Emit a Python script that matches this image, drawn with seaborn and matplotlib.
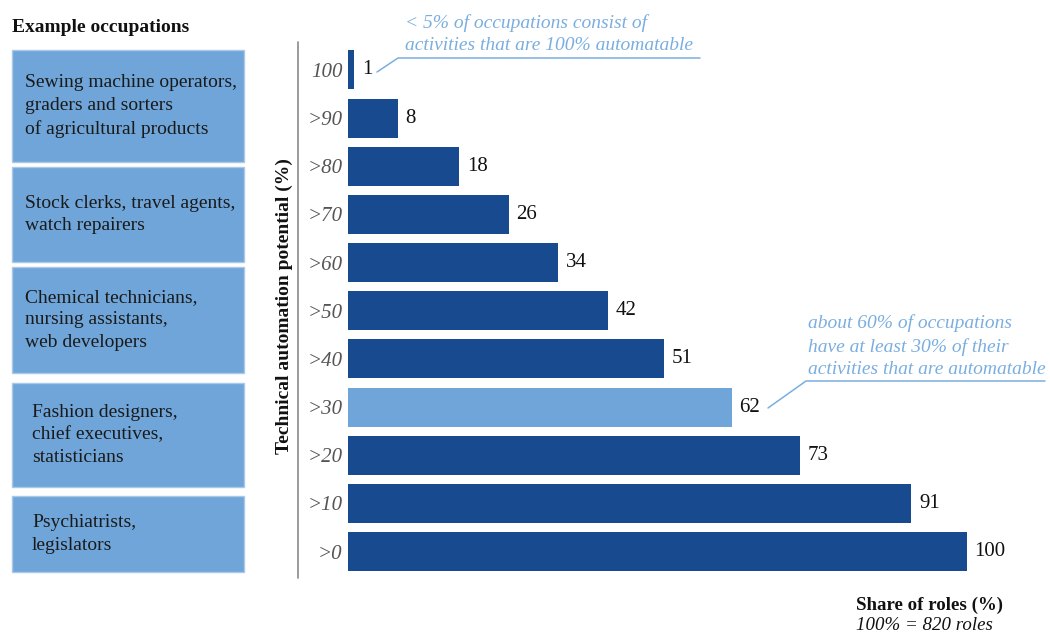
import matplotlib
matplotlib.use("Agg")
import matplotlib.pyplot as plt
import seaborn as sns
import pandas as pd
from matplotlib.patches import Rectangle
from matplotlib.lines import Line2D

# ---------------- data ----------------
categories = ["100", ">90", ">80", ">70", ">60", ">50", ">40", ">30", ">20", ">10", ">0"]
shares = [1, 8, 18, 26, 34, 42, 51, 62, 73, 91, 100]
highlight = ">30"
occupations = [
    "Sewing machine operators,\ngraders and sorters\nof agricultural products",
    "Stock clerks, travel agents,\nwatch repairers",
    "Chemical technicians,\nnursing assistants,\nweb developers",
    "Fashion designers,\nchief executives,\nstatisticians",
    "Psychiatrists,\nlegislators",
]
note_top = "< 5% of occupations consist of\nactivities that are 100% automatable"
note_mid = "about 60% of occupations\nhave at least 30% of their\nactivities that are automatable"

# ---------------- style ----------------
DARK = "#174a8e"
LIGHT = "#6fa5d8"
NOTE = "#7aaee0"
W, H = 1050, 633

sns.set_theme(style="white")
plt.rcParams["font.family"] = ["Liberation Serif", "DejaVu Serif"]

fig = plt.figure(figsize=(W / 100, H / 100), dpi=100)

def fx(x):
    return x / W

def fy(y):
    return 1 - y / H

# axes: left edge at data 0 (x=348px), spans y 42..578
ax = fig.add_axes([fx(348), fy(578), (1040 - 348) / W, (578 - 42) / H])

df = pd.DataFrame({"cat": categories, "share": shares})
palette = {c: (LIGHT if c == highlight else DARK) for c in categories}
sns.barplot(data=df, y="cat", x="share", hue="cat", palette=palette,
            order=categories, legend=False, orient="h", width=0.81,
            linewidth=0, saturation=1, ax=ax)

ax.set_xlim(0, 692 / 6.19)
ax.set_ylim(10.55, -0.58)
for s in ax.spines.values():
    s.set_visible(False)
ax.set_xticks([])
ax.set_xlabel("")
ax.set_ylabel("")
ax.tick_params(axis="y", length=0, pad=4, labelsize=15, labelcolor="#555555")
for lab in ax.get_yticklabels():
    lab.set_fontstyle("italic")

for i, v in enumerate(shares):
    ax.annotate(str(v), xy=(v, i), xytext=(5.5, 0), textcoords="offset points",
                ha="left", va="center", fontsize=15, color="#111111")

# vertical axis line
fig.add_artist(Line2D([fx(298), fx(298)], [fy(42), fy(578)], color="#8a8a8a", lw=1.2))

# y label
fig.text(fx(284), fy(306), "Technical automation potential (%)", rotation=90,
         ha="center", va="center", fontsize=14, fontweight="bold", color="#111111")

# title of left column
fig.text(fx(12), fy(27), "Example occupations", ha="left", va="center",
         fontsize=14, fontweight="bold", color="#111111")

# occupation boxes (top, bottom in px)
boxes = [(50, 162), (167, 262), (267, 373), (383, 487), (496, 572)]
text_x = [25, 25, 25, 32, 32]
for (t, b), txt, tx in zip(boxes, occupations, text_x):
    fig.add_artist(Rectangle((fx(12), fy(b)), (244 - 12) / W, (b - t) / H,
                             facecolor=LIGHT, edgecolor="#a9c9ea", lw=1.0))
    fig.text(fx(tx), fy((t + b) / 2), txt, ha="left", va="center",
             fontsize=14, color="#1a1a1a", linespacing=1.45)

# annotation 1
fig.text(fx(405), fy(34), note_top, ha="left", va="center", fontsize=14,
         fontstyle="italic", color=NOTE, linespacing=1.4)
fig.add_artist(Line2D([fx(377), fx(398), fx(700)], [fy(72), fy(58), fy(58)],
                      color=NOTE, lw=1.1))

# annotation 2
fig.text(fx(808), fy(346), note_mid, ha="left", va="center", fontsize=14,
         fontstyle="italic", color=NOTE, linespacing=1.4)
fig.add_artist(Line2D([fx(768), fx(806), fx(1045)], [fy(408), fy(381), fy(381)],
                      color=NOTE, lw=1.1))

# bottom captions
fig.text(fx(856), fy(605), "Share of roles (%)", ha="left", va="center",
         fontsize=13.6, fontweight="bold", color="#111111")
fig.text(fx(856), fy(626), "100% = 820 roles", ha="left", va="center",
         fontsize=13.6, fontstyle="italic", color="#111111")

fig.savefig("out.png", dpi=100)
